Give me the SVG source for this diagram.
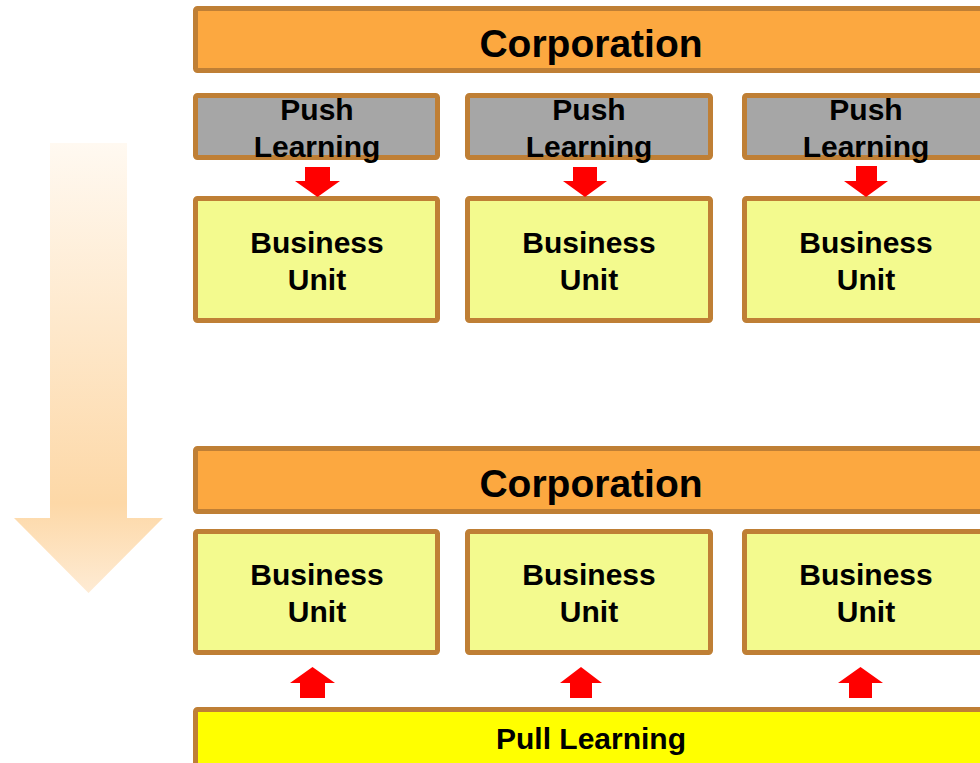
<svg xmlns="http://www.w3.org/2000/svg" width="980" height="763" viewBox="0 0 980 763">
<defs>
<linearGradient id="bigArrow" gradientUnits="userSpaceOnUse" x1="0" y1="143" x2="0" y2="593">
<stop offset="0" stop-color="#FFF9F1"/>
<stop offset="0.8" stop-color="#FDD8A7"/>
<stop offset="1" stop-color="#FEEBD4"/>
</linearGradient>
<style>
.box{stroke:#BF7F35;stroke-width:5;}
.corp{fill:#FCA840;}
.push{fill:#A6A6A6;}
.bu{fill:#F3FA8E;}
.pull{fill:#FFFF00;}
.t{font-family:"Liberation Sans",Arial,sans-serif;font-weight:bold;fill:#000;text-anchor:middle;}
.big{font-size:39px;}
.mid{font-size:30px;}
.red{fill:#FF0000;}
</style>
</defs>
<rect width="980" height="763" fill="#FFFFFF"/>
<polygon points="50,143 127,143 127,518 163,518 88.5,593 14,518 50,518" fill="url(#bigArrow)"/>

<g id="corp-top"><rect class="box corp" x="195.5" y="8.5" width="800" height="62" rx="2"/><text class="t big" x="591" y="57">Corporation</text></g>

<g id="push1"><rect class="box push" x="195.5" y="95.5" width="242" height="62" rx="2"/><text class="t mid" x="317" y="120">Push</text><text class="t mid" x="317" y="157">Learning</text></g>
<g id="push2"><rect class="box push" x="467.5" y="95.5" width="243" height="62" rx="2"/><text class="t mid" x="589" y="120">Push</text><text class="t mid" x="589" y="157">Learning</text></g>
<g id="push3"><rect class="box push" x="744.5" y="95.5" width="243" height="62" rx="2"/><text class="t mid" x="866" y="120">Push</text><text class="t mid" x="866" y="157">Learning</text></g>

<g id="bu-top1"><rect class="box bu" x="195.5" y="198.5" width="242" height="122" rx="2"/><text class="t mid" x="317" y="253">Business</text><text class="t mid" x="317" y="290">Unit</text></g>
<g id="bu-top2"><rect class="box bu" x="467.5" y="198.5" width="243" height="122" rx="2"/><text class="t mid" x="589" y="253">Business</text><text class="t mid" x="589" y="290">Unit</text></g>
<g id="bu-top3"><rect class="box bu" x="744.5" y="198.5" width="243" height="122" rx="2"/><text class="t mid" x="866" y="253">Business</text><text class="t mid" x="866" y="290">Unit</text></g>

<g id="corp-bottom"><rect class="box corp" x="195.5" y="448.5" width="800" height="63" rx="2"/><text class="t big" x="591" y="497">Corporation</text></g>

<g id="bu-bot1"><rect class="box bu" x="195.5" y="531.5" width="242" height="121" rx="2"/><text class="t mid" x="317" y="585">Business</text><text class="t mid" x="317" y="622">Unit</text></g>
<g id="bu-bot2"><rect class="box bu" x="467.5" y="531.5" width="243" height="121" rx="2"/><text class="t mid" x="589" y="585">Business</text><text class="t mid" x="589" y="622">Unit</text></g>
<g id="bu-bot3"><rect class="box bu" x="744.5" y="531.5" width="243" height="121" rx="2"/><text class="t mid" x="866" y="585">Business</text><text class="t mid" x="866" y="622">Unit</text></g>

<g id="pull"><rect class="box pull" x="195.5" y="709.5" width="800" height="80" rx="2"/><text class="t mid" x="591" y="749">Pull Learning</text></g>

<g id="connectors">
<polygon class="red" points="305,167 330,167 330,181 340,181 317.5,197 295,181 305,181"/>
<polygon class="red" points="573,167 597,167 597,181 607,181 585,197 563,181 573,181"/>
<polygon class="red" points="856,166 877,166 877,181 888,181 866,197 844,181 856,181"/>
<polygon class="red" points="300,698 325,698 325,683 335,683 312.5,667 290,683 300,683"/>
<polygon class="red" points="570,698 592,698 592,683 602,683 581,667 560,683 570,683"/>
<polygon class="red" points="849,698 872,698 872,683 883,683 860.5,667 838,683 849,683"/>
</g>
</svg>
